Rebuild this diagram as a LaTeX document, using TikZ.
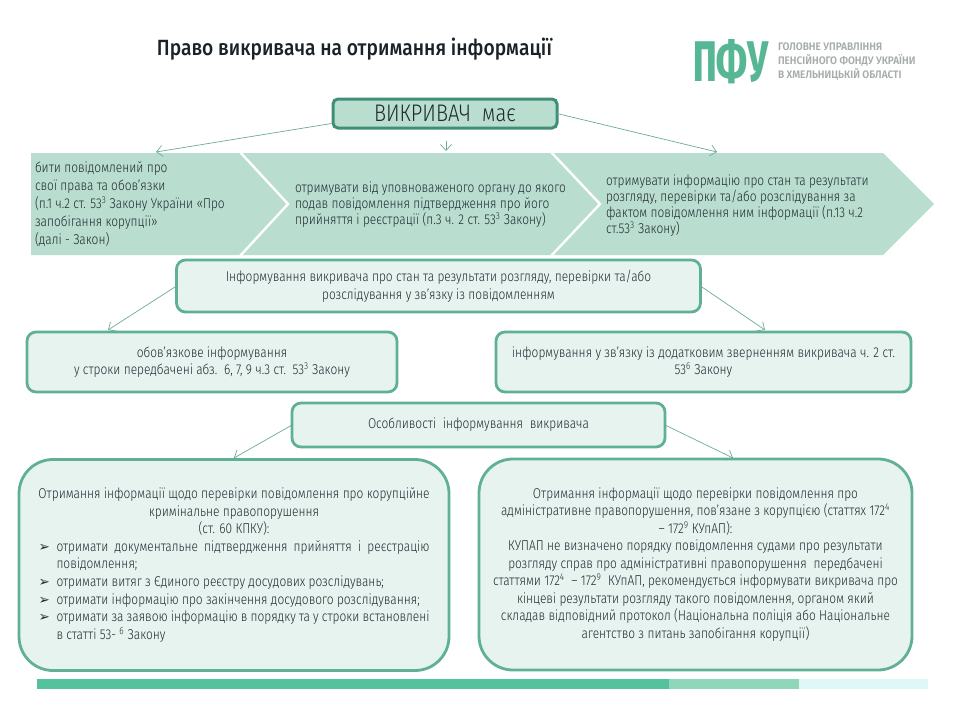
\documentclass[tikz,border=0pt]{standalone}
\usepackage{fontspec}
\setmainfont[FakeStretch=0.84]{Fira Sans Light}
\newfontfamily\titlefont[FakeStretch=0.873]{Fira Sans Medium}
\newfontfamily\orgfont[FakeStretch=0.92]{Fira Sans SemiBold}
\newfontfamily\logofont{Fira Sans ExtraBold}
\newfontfamily\symfont{DejaVu Sans}
\usetikzlibrary{arrows.meta,calc}
\definecolor{inkc}{HTML}{1F2A30}
\definecolor{band}{HTML}{B9DDCF}
\definecolor{darkedge}{HTML}{3F8F77}
\definecolor{edgec}{HTML}{5FB095}
\definecolor{pale}{HTML}{E6F3EF}
\definecolor{linkc}{HTML}{6DAA98}
\definecolor{logoc}{HTML}{57B795}
\definecolor{logogray}{HTML}{A6ABAB}
\definecolor{barA}{HTML}{55C29E}
\definecolor{barB}{HTML}{90D6BA}
\definecolor{barC}{HTML}{DFF8F7}
\newcommand{\upnum}[1]{\textsuperscript{#1}}
\newcommand{\pnt}{\makebox[18pt][l]{\symfont\fontsize{13.5}{13.5}\selectfont ➢}}
\newcommand{\fullline}[1]{\makebox[373pt][s]{#1}}
\begin{document}
\begin{tikzpicture}[x=1pt,y=-1pt,
  every node/.style={text=inkc,inner sep=0pt,outer sep=0pt},
  box/.style={draw=edgec,fill=pale,line width=2.8pt,rounded corners=9pt,align=center,
    font=\fontsize{14.2}{17.5}\selectfont},
  bigbox/.style={box,rounded corners=34pt},
  topbox/.style={box,draw=darkedge,fill=band,rounded corners=5pt,line width=3pt},
  link/.style={draw=linkc,line width=0.7pt,-{Straight Barb[length=6pt,width=11pt,line width=0.7pt]}},
  bandtext/.style={align=left,font=\fontsize{14.2}{16}\selectfont}]
\useasboundingbox (0,0) rectangle (960,720);
\fill[white] (0,0) rectangle (960,720);

% title and logo
\node[anchor=center,font=\titlefont\fontsize{22}{24}\selectfont,text=inkc!80!black] (title) at (354.5,49) {Право викривача на отримання інформації};
\node[anchor=center,text=logoc,font=\logofont] (logo) at (730.5,62) {\resizebox{75pt}{42pt}{ПФУ}};
\node[anchor=west,align=left,text=logogray,font=\orgfont\fontsize{10.9}{14}\selectfont] (org) at (778,62) {ГОЛОВНЕ УПРАВЛІННЯ\\ПЕНСІЙНОГО ФОНДУ УКРАЇНИ\\В ХМЕЛЬНИЦЬКІЙ ОБЛАСТІ};

% chevron band
\fill[band] (31,153) -- (883,153) -- (934,204) -- (883,255) -- (31,255) -- cycle;
\draw[white,line width=2.4pt] (240,152) -- (288,204) -- (240,256);
\draw[white,line width=2.4pt] (551,152) -- (600,204) -- (551,256);

\node[bandtext,anchor=west,font=\fontsize{14.2}{18}\selectfont] (c1) at (35,204) {бити повідомлений про\\свої права та обов'язки\\(п.1 ч.2 ст. 53\upnum{3} Закону України «Про\\запобігання корупції»\\(далі - Закон)};
\node[bandtext,anchor=west] (c2) at (295,205) {отримувати від уповноваженого органу до якого\\подав повідомлення підтвердження про його\\прийняття і реєстрації (п.3 ч. 2 ст. 53\upnum{3} Закону)};
\node[bandtext,anchor=west] (c3) at (606,205.5) {отримувати інформацію про стан та результати\\розгляду, перевірки та/або розслідування за\\фактом повідомлення ним інформації (п.13 ч.2\\ст.53\upnum{3} Закону)};

% boxes
\node[topbox,minimum width=224pt,minimum height=29pt,font=\fontsize{24}{26}\selectfont] (top) at (445,113.5) {ВИКРИВАЧ\ \ має};
\node[box,minimum width=524pt,minimum height=52pt] (info) at (438.5,286) {Інформування викривача про стан та результати розгляду, перевірки та/або\\розслідування у зв'язку із повідомленням};
\node[box,minimum width=370pt,minimum height=60pt] (must) at (212,362) {обов'язкове інформування\\у строки передбачені абз.\ \ 6, 7, 9 ч.3 ст.\ \ 53\upnum{3} Закону};
\node[box,minimum width=415pt,minimum height=60pt] (extra) at (703.5,362) {інформування у зв'язку із додатковим зверненням викривача ч. 2 ст.\\53\upnum{6} Закону};
\node[box,minimum width=373pt,minimum height=44pt] (feat) at (478.5,425) {Особливості\ \ інформування\ \ викривача};

\node[bigbox,minimum width=430pt,minimum height=211pt] (crim) at (234,565) {\begin{minipage}{391pt}\baselineskip=17.6pt
\makebox[\linewidth]{Отримання інформації щодо перевірки повідомлення про корупційне}\\
\makebox[\linewidth]{кримінальне правопорушення}\\
\makebox[\linewidth]{(ст. 60 КПКУ):}\\
\pnt\fullline{отримати документальне підтвердження прийняття і реєстрацію}\\
\hspace*{18pt}повідомлення;\\
\pnt отримати витяг з Єдиного реєстру досудових розслідувань;\\
\pnt отримати інформацію про закінчення досудового розслідування;\\
\pnt\fullline{отримати за заявою інформацію в порядку та у строки встановлені}\\
\hspace*{18pt}в статті 53- \upnum{6} Закону
\end{minipage}};
\node[bigbox,minimum width=433pt,minimum height=211pt] (adm) at (695.5,564.5) {Отримання інформації щодо перевірки повідомлення про\\адміністративне правопорушення, пов'язане з корупцією (статтях 172\upnum{4}\\– 172\upnum{9} КУпАП):\\КУПАП не визначено порядку повідомлення судами про результати\\розгляду справ про адміністративні правопорушення\ \ передбачені\\статтями 172\upnum{4}\ \ – 172\upnum{9}\ \ КУпАП, рекомендується інформувати викривача про\\кінцеві результати розгляду такого повідомлення, органом який\\складав відповідний протокол (Національна поліція або Національне\\агентство з питань запобігання корупції)};

% connector ends
\coordinate (e1) at (156,152);
\coordinate (e2) at (446,151);
\coordinate (s2) at (446,141);
\coordinate (e3) at (717,152);
\coordinate (e4) at (108,330);
\coordinate (e5) at (765,330);
\coordinate (e6) at (234,458);
\coordinate (e7) at (733,458);

\draw[link] ($(top.west)+(-1.5,10)$) -- (e1);
\draw[link] (s2) -- (e2);
\draw[link] (top.east) -- (e3);
\draw[link] (info.west) -- (e4);
\draw[link] (info.east) -- (e5);
\draw[link] (feat.west) -- (e6);
\draw[link] (feat.east) -- (e7);

% footer bar
\fill[barA] (37,679) rectangle (669,689);
\fill[barB] (669,679) rectangle (799,689);
\fill[barC] (799,679) rectangle (928,689);
\end{tikzpicture}
\end{document}
